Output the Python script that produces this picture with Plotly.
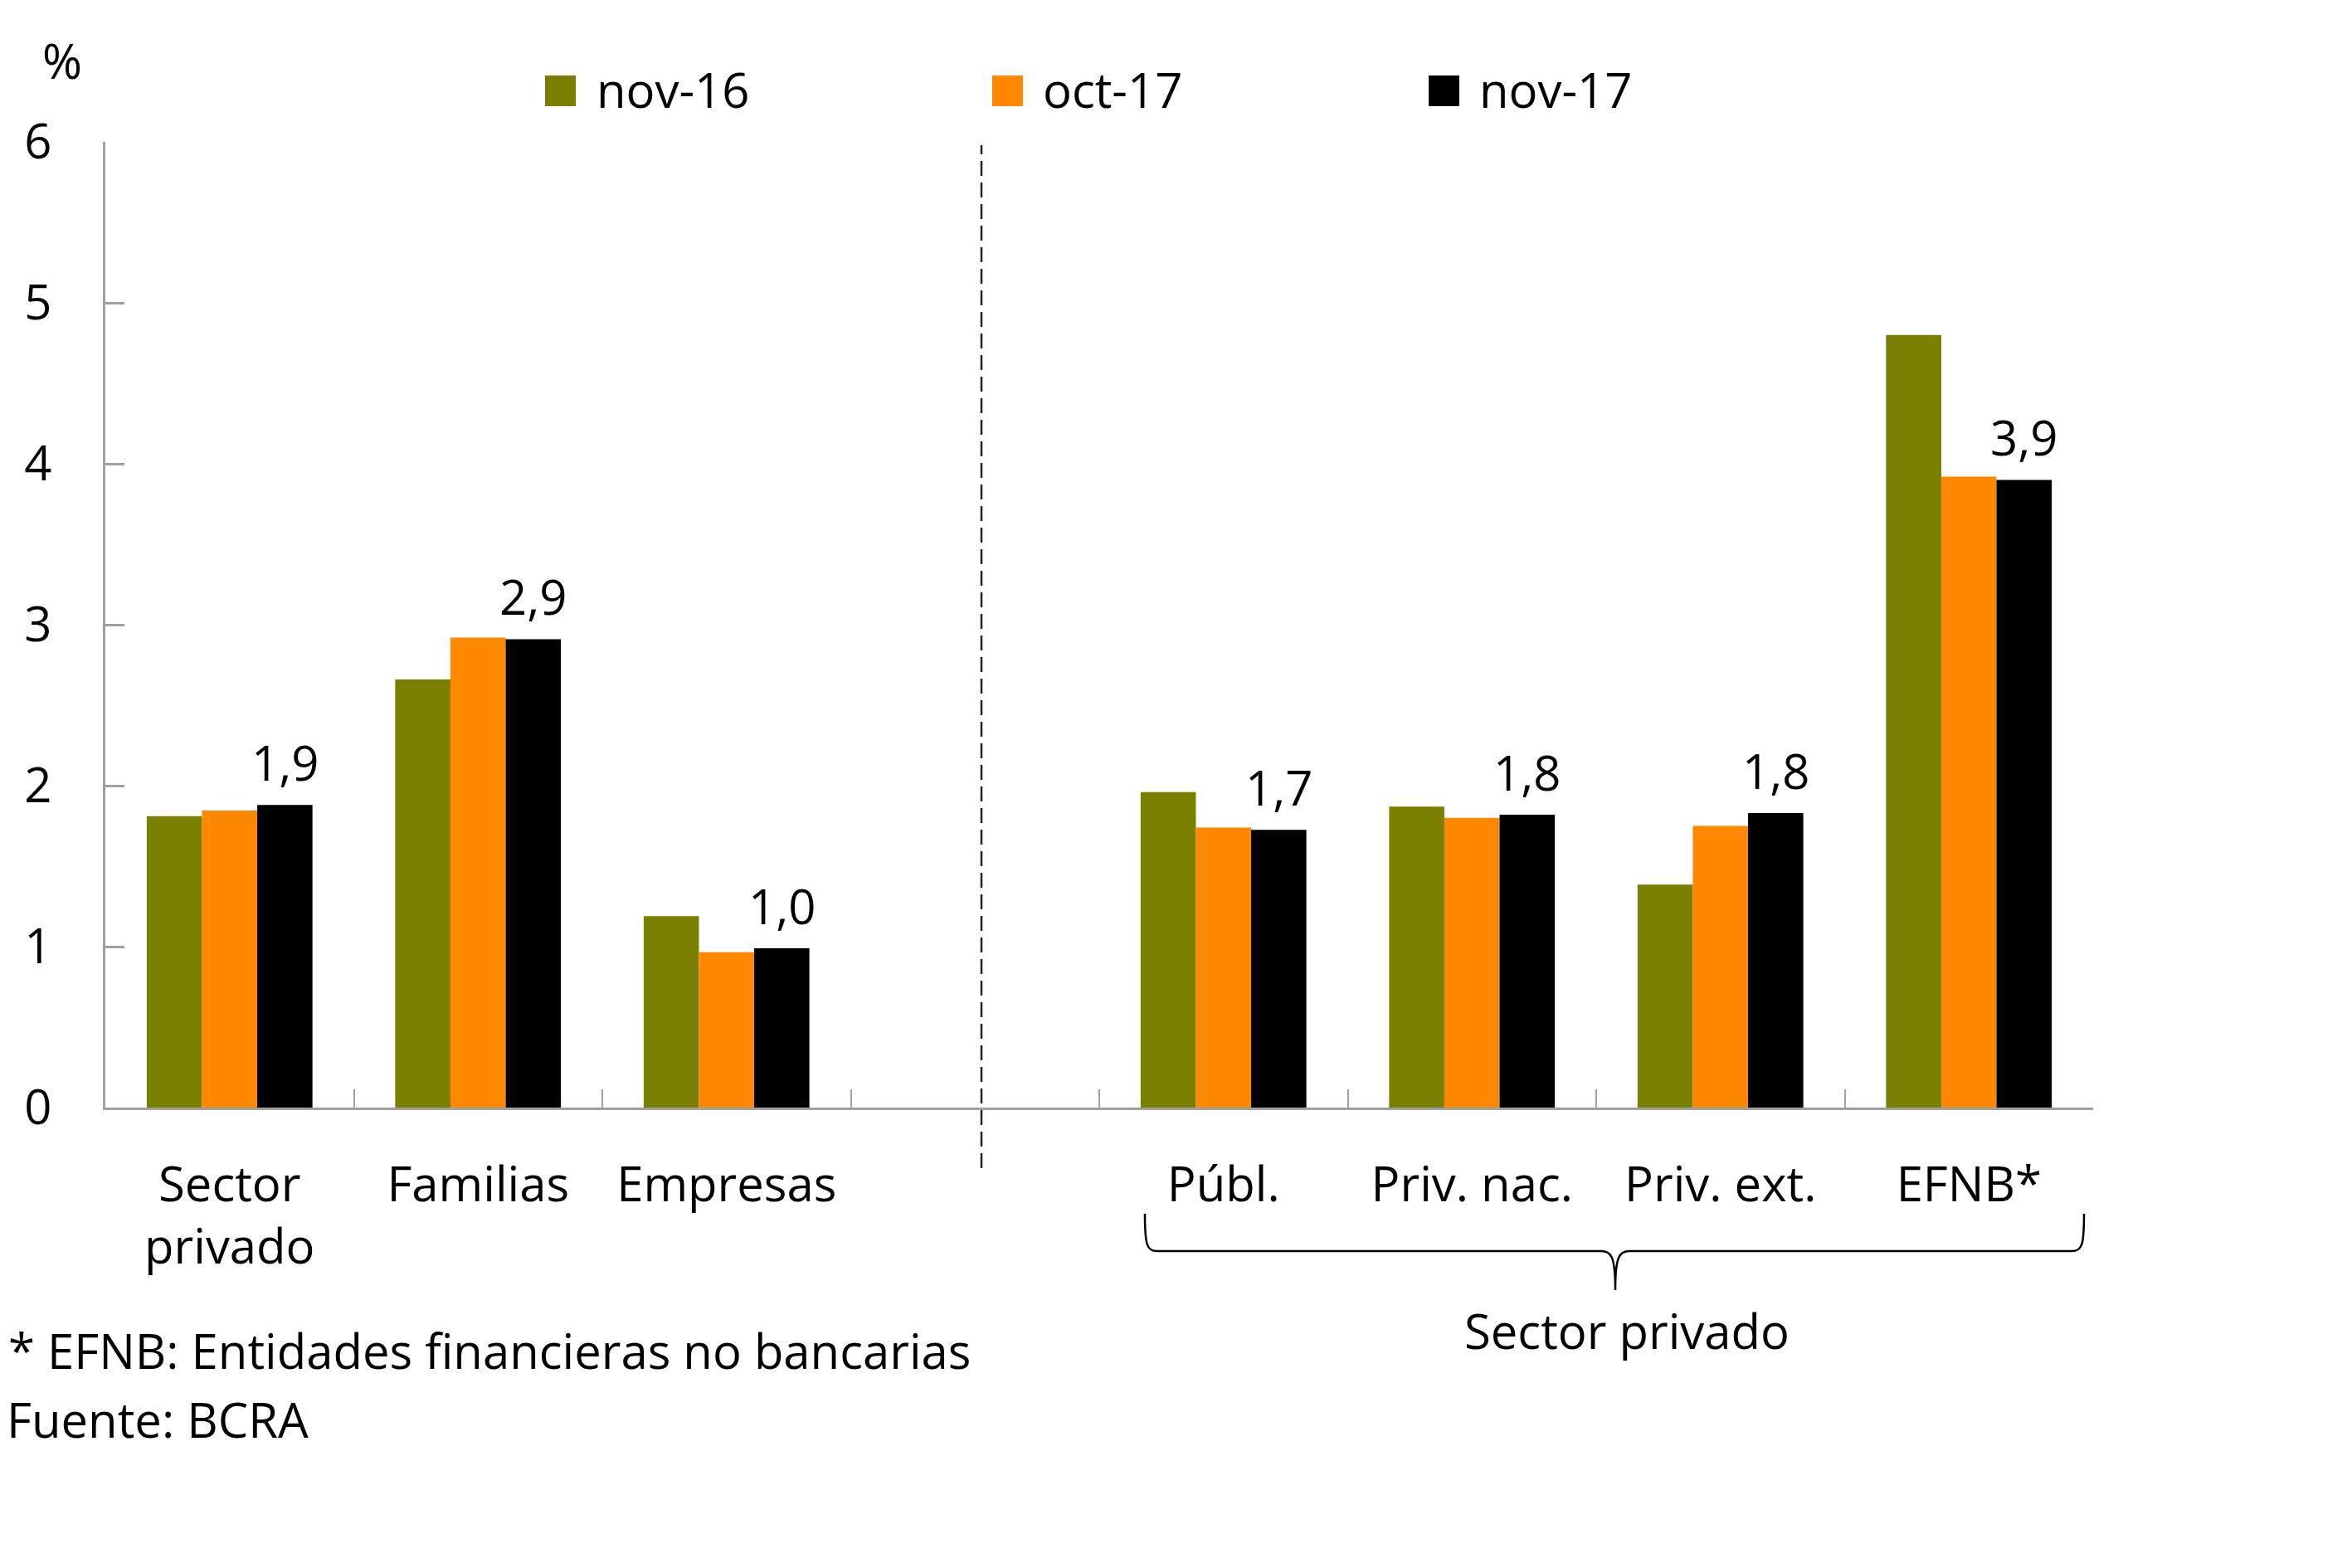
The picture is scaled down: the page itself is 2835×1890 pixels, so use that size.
import plotly.graph_objects as go

# ---------------- data ----------------
categories = ["Sector<br>privado", "Familias", "Empresas", " ",
              "Públ.", "Priv. nac.", "Priv. ext.", "EFNB*"]
series_names = ["nov-16", "oct-17", "nov-17"]
nov16 = [1.81, 2.66, 1.19, None, 1.96, 1.87, 1.385, 4.80]
oct17 = [1.845, 2.92, 0.965, None, 1.74, 1.80, 1.75, 3.92]
nov17 = [1.88, 2.91, 0.99, None, 1.726, 1.82, 1.83, 3.90]
y_ticks = [0, 1, 2, 3, 4, 5, 6]
colors = ["#7A7F00", "#FF8800", "#000000"]

# ---------------- geometry helpers (pixels -> paper) ----------------
W, H = 2835, 1890
L, R, T, B = 127, 2523, 171, 1335


def px(x):
    return (x - L) / (R - L)


def py(y):
    return (B - y) / (B - T)


FONT = "'Open Sans', Lato, sans-serif"
FS = 58

fig = go.Figure()
for name, vals, col in zip(series_names, [nov16, oct17, nov17], colors):
    fig.add_trace(go.Bar(x=categories, y=vals, name=name,
                         marker=dict(color=col, line=dict(width=0)),
                         showlegend=False, hoverinfo="skip"))

# value labels above the nov-17 bars
bar_px = (R - L) / len(categories) * (1 - 0.333) / 3
for cat, v in zip(categories, nov17):
    if v is None:
        continue
    fig.add_annotation(x=cat, y=v, xref="x", yref="y", xshift=bar_px,
                       yshift=10, xanchor="center", yanchor="bottom",
                       text=f"{v:.1f}".replace(".", ","), showarrow=False,
                       font=dict(family=FONT, size=FS, color="black"))

axis_col = "#A0A0A0"
fig.update_layout(
    width=W, height=H,
    margin=dict(l=L, r=W - R, t=T, b=H - B),
    paper_bgcolor="white", plot_bgcolor="white",
    barmode="group", bargap=0.333, bargroupgap=0,
    font=dict(family=FONT, size=FS, color="black"),
    xaxis=dict(type="category", range=[-0.5, 7.5], showline=True,
               linecolor=axis_col, linewidth=3, tickson="boundaries",
               ticks="inside", ticklen=22, tickwidth=2, tickcolor=axis_col,
               showgrid=False, zeroline=False, ticklabelstandoff=40,
               tickfont=dict(family=FONT, size=FS, color="black")),
    yaxis=dict(range=[0, 6], tickvals=y_ticks, showline=True,
               linecolor=axis_col, linewidth=3, ticks="inside", ticklen=23,
               tickwidth=3, tickcolor=axis_col, showgrid=False,
               zeroline=False, ticklabelstandoff=50,
               tickfont=dict(family=FONT, size=FS, color="black")),
)

# ---------------- manual legend ----------------
legend_sq = [657, 1196, 1722]
legend_tx = [717, 1255, 1781]
for name, col, sx, tx in zip(series_names, colors, legend_sq, legend_tx):
    fig.add_shape(type="rect", xref="paper", yref="paper",
                  x0=px(sx), x1=px(sx + 37), y0=py(128), y1=py(91),
                  fillcolor=col, line=dict(width=0))
    fig.add_annotation(xref="paper", yref="paper", x=px(tx), y=py(108),
                       xanchor="left", yanchor="middle", text=name,
                       showarrow=False, font=dict(family=FONT, size=FS))

# "%" unit label
fig.add_annotation(xref="paper", yref="paper", x=px(75), y=py(72),
                   xanchor="center", yanchor="middle", text="%",
                   showarrow=False, font=dict(family=FONT, size=FS))

# dashed separator
fig.add_shape(type="line", xref="paper", yref="paper",
              x0=px(1183), x1=px(1183), y0=py(1408), y1=py(175),
              line=dict(color="#222222", width=2.5, dash="18px,8px"))

# curly brace under right group
path = (f"M {px(1380)},{py(1463)} "
        f"C {px(1380)},{py(1500)} {px(1382)},{py(1508)} {px(1395)},{py(1508)} "
        f"L {px(1930)},{py(1508)} "
        f"C {px(1942)},{py(1508)} {px(1947)},{py(1514)} {px(1947)},{py(1555)} "
        f"C {px(1947)},{py(1514)} {px(1952)},{py(1508)} {px(1964)},{py(1508)} "
        f"L {px(2497)},{py(1508)} "
        f"C {px(2510)},{py(1508)} {px(2512)},{py(1500)} {px(2512)},{py(1463)}")
fig.add_shape(type="path", xref="paper", yref="paper", path=path,
              line=dict(color="black", width=2.5))

fig.add_annotation(xref="paper", yref="paper", x=px(1961), y=py(1603),
                   xanchor="center", yanchor="middle", text="Sector privado",
                   showarrow=False, font=dict(family=FONT, size=FS))

# footnotes
fig.add_annotation(xref="paper", yref="paper", x=px(8), y=py(1627),
                   xanchor="left", yanchor="middle",
                   text="* EFNB: Entidades financieras no bancarias",
                   showarrow=False, font=dict(family=FONT, size=FS))
fig.add_annotation(xref="paper", yref="paper", x=px(6), y=py(1710),
                   xanchor="left", yanchor="middle", text="Fuente: BCRA",
                   showarrow=False, font=dict(family=FONT, size=FS))

fig.write_html("out.html", config={"displayModeBar": False},
               post_script="document.body.style.margin='0';")
